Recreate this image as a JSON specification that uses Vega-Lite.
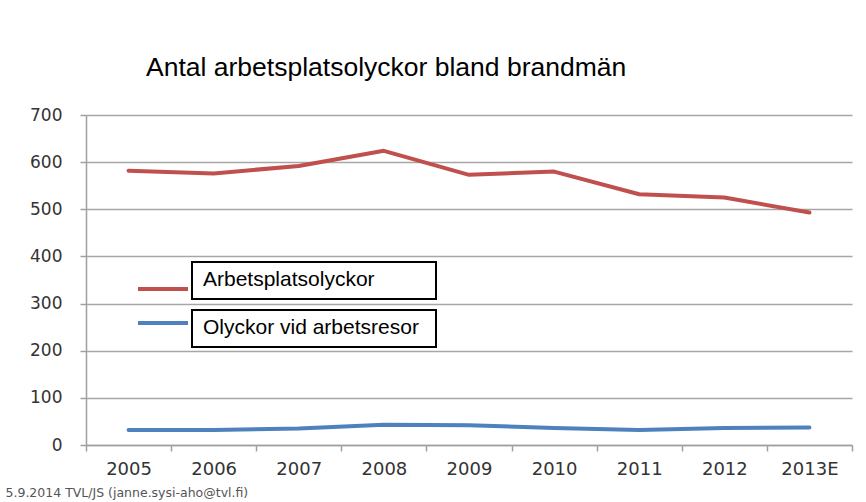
{
  "$schema": "https://vega.github.io/schema/vega-lite/v6.json",
  "width": 766,
  "height": 330,
  "autosize": "none",
  "padding": {"left": 86, "top": 115, "right": 14, "bottom": 57},
  "background": "white",
  "title": {
    "text": "Antal arbetsplatsolyckor bland brandmän",
    "anchor": "start",
    "frame": "group",
    "dx": 60,
    "offset": 4,
    "baseline": "alphabetic",
    "font": "Liberation Sans",
    "fontSize": 26.5,
    "fontWeight": "normal",
    "color": "#000000"
  },
  "data": {
    "values": [
      {"year": "2005", "series": "Arbetsplatsolyckor", "value": 582},
      {"year": "2006", "series": "Arbetsplatsolyckor", "value": 576},
      {"year": "2007", "series": "Arbetsplatsolyckor", "value": 592},
      {"year": "2008", "series": "Arbetsplatsolyckor", "value": 624},
      {"year": "2009", "series": "Arbetsplatsolyckor", "value": 573},
      {"year": "2010", "series": "Arbetsplatsolyckor", "value": 580},
      {"year": "2011", "series": "Arbetsplatsolyckor", "value": 532},
      {"year": "2012", "series": "Arbetsplatsolyckor", "value": 525},
      {"year": "2013E", "series": "Arbetsplatsolyckor", "value": 493},
      {"year": "2005", "series": "Olyckor vid arbetsresor", "value": 32},
      {"year": "2006", "series": "Olyckor vid arbetsresor", "value": 32},
      {"year": "2007", "series": "Olyckor vid arbetsresor", "value": 35},
      {"year": "2008", "series": "Olyckor vid arbetsresor", "value": 43},
      {"year": "2009", "series": "Olyckor vid arbetsresor", "value": 42},
      {"year": "2010", "series": "Olyckor vid arbetsresor", "value": 36},
      {"year": "2011", "series": "Olyckor vid arbetsresor", "value": 32},
      {"year": "2012", "series": "Olyckor vid arbetsresor", "value": 36},
      {"year": "2013E", "series": "Olyckor vid arbetsresor", "value": 37}
    ]
  },
  "mark": {"type": "line", "strokeWidth": 4, "strokeCap": "round", "strokeJoin": "round"},
  "encoding": {
    "x": {
      "field": "year",
      "type": "ordinal",
      "bandPosition": 0.5,
      "scale": {"type": "band", "paddingInner": 0, "paddingOuter": 0},
      "axis": {
        "title": "5.9.2014 TVL/JS (janne.sysi-aho@tvl.fi)",
        "titleFont": "DejaVu Sans",
        "titleFontSize": 12.5,
        "titleFontWeight": "normal",
        "titleColor": "#555555",
        "titleAnchor": "start",
        "titleAlign": "left",
        "titleBaseline": "middle",
        "titleX": -81,
        "titleY": 47,
        "labelAngle": 0,
        "labelFont": "DejaVu Sans",
        "labelFontSize": 18,
        "labelColor": "#333333",
        "labelPadding": 9,
        "tickBand": "extent",
        "tickSize": 6,
        "tickColor": "#a0a0a0",
        "tickWidth": 1.5,
        "domainColor": "#a0a0a0",
        "domainWidth": 1.5,
        "grid": false
      }
    },
    "y": {
      "field": "value",
      "type": "quantitative",
      "scale": {"domain": [0, 700], "nice": false},
      "axis": {
        "title": null,
        "values": [0, 100, 200, 300, 400, 500, 600, 700],
        "labelFont": "DejaVu Sans",
        "labelFontSize": 17,
        "labelColor": "#333333",
        "labelPadding": 18,
        "tickSize": 6,
        "tickColor": "#a0a0a0",
        "tickWidth": 1.5,
        "domainColor": "#a0a0a0",
        "domainWidth": 1.5,
        "grid": true,
        "gridColor": "#a6a6a6",
        "gridWidth": 1.5
      }
    },
    "color": {
      "field": "series",
      "type": "nominal",
      "scale": {
        "domain": ["Arbetsplatsolyckor", "Olyckor vid arbetsresor"],
        "range": ["#c0504d", "#4f81bd"]
      },
      "legend": {
        "title": null,
        "orient": "none",
        "direction": "vertical",
        "legendX": 106,
        "legendY": 147,
        "padding": 0,
        "rowPadding": 10,
        "labelFont": "Liberation Sans",
        "labelFontSize": 21,
        "labelColor": "#000000",
        "labelLimit": 400,
        "symbolType": "stroke",
        "symbolSize": 2500,
        "symbolStrokeWidth": 4,
        "encode": {
          "entries": {
            "update": {
              "stroke": {"value": "#000000"},
              "strokeWidth": {"value": 2},
              "fill": {"value": "#ffffff"},
              "width": {"value": 243},
              "height": {"value": 36},
              "noBound": {"value": false}
            }
          },
          "symbols": {
            "update": {
              "x": {"value": -29},
              "y": {"signal": "datum.index === 0 ? 27 : 13"}
            }
          },
          "labels": {
            "update": {
              "x": {"value": 11},
              "y": {"value": 18}
            }
          }
        }
      }
    }
  },
  "config": {
    "view": {"stroke": null}
  }
}
